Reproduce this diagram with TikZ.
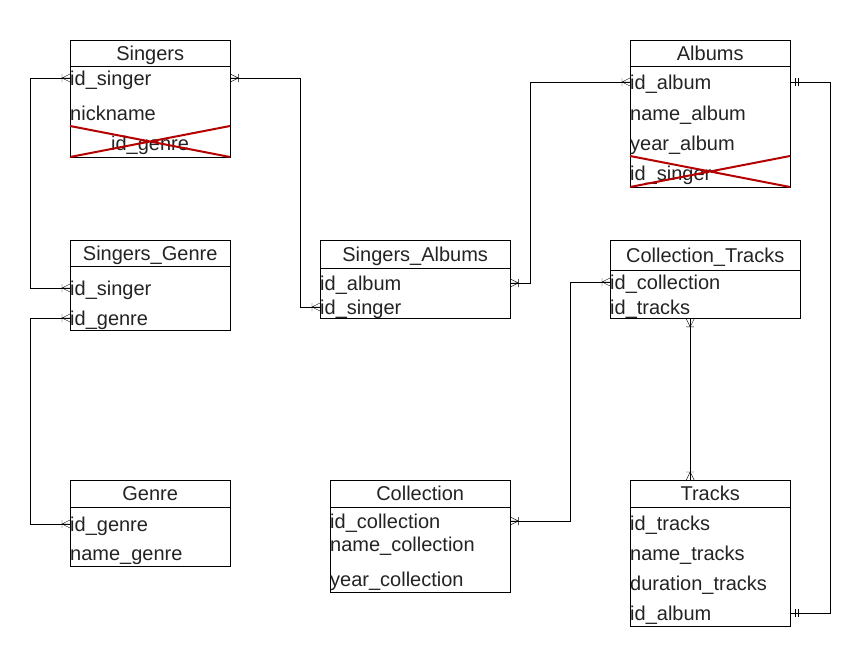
\documentclass[tikz,border=0pt]{standalone}
\usepackage{fontspec}
\setmainfont{Liberation Sans}
\usetikzlibrary{positioning}
\definecolor{crossred}{RGB}{180,0,0}
\definecolor{txt}{RGB}{35,35,35}

\tikzset{
  head/.style={draw, anchor=north west, minimum height=26pt, inner sep=0pt, text height=15pt, text depth=1pt, text=txt},
  body/.style={draw, anchor=north west, inner sep=0pt},
  fld/.style={anchor=west, inner sep=0pt, text height=15pt, text depth=1pt, text=txt},
  cross/.style={crossred, line width=2pt},
  crowfoot/.pic={\draw (0pt,-4pt) -- (-8pt,0pt) -- (0pt,4pt) (0pt,0pt) -- (-8pt,0pt) (-8pt,-4pt) -- (-8pt,4pt);},
  twobars/.pic={\draw (-5pt,-4pt) -- (-5pt,4pt) (-8pt,-4pt) -- (-8pt,4pt);}
}

\begin{document}
\begin{tikzpicture}[x=1pt,y=-1pt,font=\fontsize{20}{24}\selectfont]
\useasboundingbox (0,0) rectangle (844,664);

% Singers
\node[head, minimum width=160pt] (sgH) at (70,40) {Singers};
\node[body, minimum width=160pt, minimum height=91pt, below=0pt of sgH.south west, anchor=north west] (sgB) {};
\node[fld] (sgId) at (70,78) {id\_singer};
\node[fld] (sgNick) at (70,113) {nickname};
\node[fld, anchor=center] (sgGenre) at (150,143) {id\_genre};
\draw[cross] (70,126) -- (230,157) (70,157) -- (230,126);

% Albums
\node[head, minimum width=160pt] (alH) at (630,40) {Albums};
\node[body, minimum width=160pt, minimum height=121pt, below=0pt of alH.south west, anchor=north west] (alB) {};
\node[fld] (alId) at (630,82) {id\_album};
\node[fld] (alName) at (630,113) {name\_album};
\node[fld] (alYear) at (630,143) {year\_album};
\node[fld] (alSinger) at (630,173) {id\_singer};
\draw[cross] (630,156) -- (790,187) (630,187) -- (790,156);

% Singers_Genre
\node[head, minimum width=160pt] (sgnH) at (70,240) {Singers\_Genre};
\node[body, minimum width=160pt, minimum height=64pt, below=0pt of sgnH.south west, anchor=north west] (sgnB) {};
\node[fld] (sgnSinger) at (70,288) {id\_singer};
\node[fld] (sgnGenre) at (70,318) {id\_genre};

% Singers_Albums
\node[head, minimum width=190pt, minimum height=28pt] (saH) at (320,240) {Singers\_Albums};
\node[body, minimum width=190pt, minimum height=50pt, below=0pt of saH.south west, anchor=north west] (saB) {};
\node[fld] (saAlbum) at (320,283) {id\_album};
\node[fld] (saSinger) at (320,307) {id\_singer};

% Collection_Tracks
\node[head, minimum width=190pt, minimum height=30pt] (ctH) at (610,240) {Collection\_Tracks};
\node[body, minimum width=190pt, minimum height=48pt, below=0pt of ctH.south west, anchor=north west] (ctB) {};
\node[fld] (ctColl) at (610,282) {id\_collection};
\node[fld] (ctTracks) at (610,307) {id\_tracks};

% Genre
\node[head, minimum width=160pt, minimum height=27pt] (gnH) at (70,480) {Genre};
\node[body, minimum width=160pt, minimum height=59pt, below=0pt of gnH.south west, anchor=north west] (gnB) {};
\node[fld] (gnId) at (70,524) {id\_genre};
\node[fld] (gnName) at (70,553) {name\_genre};

% Collection
\node[head, minimum width=180pt, minimum height=27pt] (clH) at (330,480) {Collection};
\node[body, minimum width=180pt, minimum height=85pt, below=0pt of clH.south west, anchor=north west] (clB) {};
\node[fld] (clId) at (330,521) {id\_collection};
\node[fld] (clName) at (330,544) {name\_collection};
\node[fld] (clYear) at (330,579) {year\_collection};

% Tracks
\node[head, minimum width=160pt, minimum height=27pt] (trH) at (630,480) {Tracks};
\node[body, minimum width=160pt, minimum height=119pt, below=0pt of trH.south west, anchor=north west] (trB) {};
\node[fld] (trId) at (630,523) {id\_tracks};
\node[fld] (trName) at (630,553) {name\_tracks};
\node[fld] (trDur) at (630,583) {duration\_tracks};
\node[fld] (trAlbum) at (630,613) {id\_album};

% links
\draw (sgId.west) -- ++(-40,0) |- (sgnSinger.west);
\draw (sgB.east |- sgId.west) -- ++(70,0) |- (saSinger.west);
\draw (sgnGenre.west) -- ++(-40,0) |- (gnId.west);
\draw (saB.east |- saAlbum.west) -- ++(20,0) |- (alId.west);
\draw (clB.east |- clId.west) -- ++(60,0) |- (ctColl.west);
\draw ([xshift=-15pt]ctB.south) -- ([xshift=-20pt]trH.north);
\draw (alB.east |- alId.west) -- ++(40,0) |- (trB.east |- trAlbum.west);

% ends
\pic at (sgId.west) {crowfoot};
\pic at (sgnSinger.west) {crowfoot};
\pic[rotate=180] at (sgB.east |- sgId.west) {crowfoot};
\pic at (saSinger.west) {crowfoot};
\pic at (sgnGenre.west) {crowfoot};
\pic at (gnId.west) {crowfoot};
\pic[rotate=180] at (saB.east |- saAlbum.west) {crowfoot};
\pic at (alId.west) {crowfoot};
\pic[rotate=180] at (clB.east |- clId.west) {crowfoot};
\pic at (ctColl.west) {crowfoot};
\pic[rotate=90] at ([xshift=-15pt]ctB.south) {crowfoot};
\pic[rotate=-90] at ([xshift=-20pt]trH.north) {crowfoot};
\pic[rotate=180] at (alB.east |- alId.west) {twobars};
\pic[rotate=180] at (trB.east |- trAlbum.west) {twobars};
\end{tikzpicture}
\end{document}
